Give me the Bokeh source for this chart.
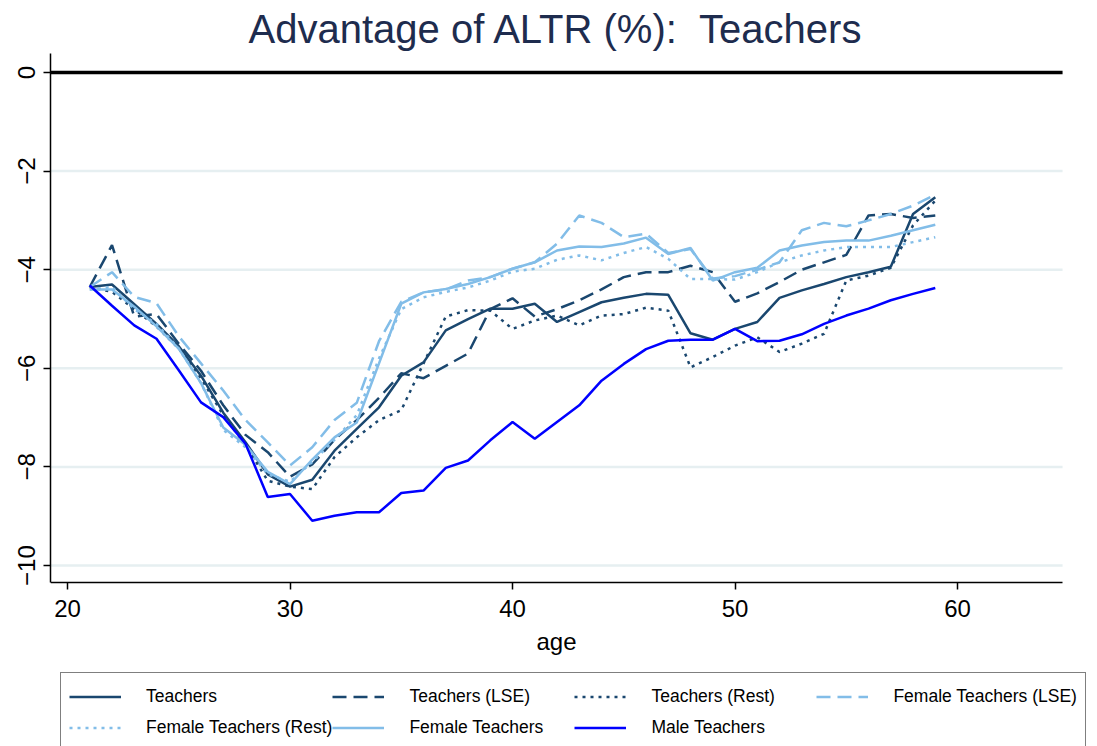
from bokeh.plotting import figure
from bokeh.models import Legend, LegendItem, FixedTicker
from bokeh.embed import file_html
from bokeh.resources import INLINE

ages = list(range(21, 60))

teachers = [-4.35, -4.30, -4.70, -5.10, -5.55, -6.15, -6.90, -7.50, -8.15, -8.40,
            -8.26, -7.67, -7.23, -6.79, -6.15, -5.88, -5.23, -5.00, -4.79, -4.79,
            -4.69, -5.06, -4.86, -4.66, -4.57, -4.49, -4.51, -5.29, -5.42, -5.20,
            -5.06, -4.57, -4.42, -4.29, -4.15, -4.05, -3.94, -2.87, -2.53]

teachers_lse = [-4.35, -3.50, -4.95, -4.90, -5.50, -6.05, -6.75, -7.35, -7.70, -8.20,
                -7.95, -7.45, -7.05, -6.60, -6.10, -6.20, -5.95, -5.70, -4.80, -4.58,
                -4.95, -4.80, -4.62, -4.40, -4.15, -4.05, -4.05, -3.92, -4.05, -4.65,
                -4.48, -4.25, -4.00, -3.85, -3.70, -2.90, -2.87, -2.95, -2.90]

teachers_rest = [-4.35, -4.45, -4.80, -5.15, -5.60, -6.20, -6.95, -7.55, -8.28, -8.40,
                 -8.45, -7.80, -7.40, -7.05, -6.85, -5.90, -4.95, -4.82, -4.83, -5.20,
                 -5.03, -4.93, -5.13, -4.93, -4.90, -4.77, -4.83, -5.98, -5.77, -5.54,
                 -5.37, -5.67, -5.50, -5.30, -4.22, -4.12, -3.96, -3.10, -2.60]

female_lse = [-4.35, -4.05, -4.55, -4.68, -5.35, -5.90, -6.45, -7.05, -7.50, -7.97,
              -7.60, -7.05, -6.70, -5.45, -4.65, -4.46, -4.40, -4.22, -4.15, -3.98,
              -3.85, -3.47, -2.90, -3.05, -3.34, -3.27, -3.66, -3.58, -4.18, -4.13,
              -4.00, -3.85, -3.20, -3.05, -3.12, -3.00, -2.87, -2.70, -2.48]

female_rest = [-4.40, -4.35, -4.80, -5.10, -5.60, -6.30, -7.25, -7.60, -8.15, -8.30,
               -7.90, -7.45, -6.95, -5.80, -4.80, -4.56, -4.45, -4.36, -4.22, -4.04,
               -3.98, -3.80, -3.71, -3.81, -3.66, -3.54, -3.78, -4.19, -4.19, -4.20,
               -4.05, -3.85, -3.71, -3.61, -3.54, -3.54, -3.54, -3.44, -3.34]

female = [-4.40, -4.40, -4.75, -5.15, -5.60, -6.30, -7.20, -7.55, -8.10, -8.35,
          -7.85, -7.40, -7.10, -5.90, -4.69, -4.46, -4.39, -4.29, -4.15, -3.98,
          -3.85, -3.61, -3.53, -3.54, -3.47, -3.35, -3.68, -3.56, -4.22, -4.05,
          -3.96, -3.61, -3.51, -3.44, -3.41, -3.41, -3.31, -3.20, -3.09]

male = [-4.32, -4.73, -5.13, -5.40, -6.04, -6.69, -6.99, -7.53, -8.61, -8.55,
        -9.09, -8.99, -8.92, -8.92, -8.53, -8.48, -8.02, -7.87, -7.46, -7.09,
        -7.43, -7.09, -6.75, -6.25, -5.91, -5.61, -5.44, -5.42, -5.42, -5.20,
        -5.45, -5.44, -5.31, -5.10, -4.93, -4.79, -4.62, -4.49, -4.37]

x_ticks = [20, 30, 40, 50, 60]
y_ticks = [-10, -8, -6, -4, -2, 0]
grid_ticks = [-10, -8, -6, -4, -2]

# axis extents (data units)
X_LO, X_HI = 19.236, 64.72
Y_LO, Y_HI = -10.345, 0.385
# whole canvas region (room for the legend beneath the axis)
X_CANVAS_HI, Y_CANVAS_LO = 66.29, -13.67

DARK = "#1a476f"
LIGHT = "#82bde8"
BLUE = "#0000ff"
FONT = "Liberation Sans"

p = figure(frame_width=1047, frame_height=693,
           x_range=(X_LO, X_CANVAS_HI), y_range=(Y_CANVAS_LO, Y_HI),
           output_backend="svg", toolbar_location=None,
           min_border_left=50, min_border_right=0, min_border_top=53, min_border_bottom=0,
           title="Advantage of ALTR (%):\u00a0\u00a0Teachers")

p.title.text_font = FONT
p.title.text_font_size = "40px"
p.title.text_font_style = "normal"
p.title.text_color = "#1e2c4e"
p.title.align = "left"
p.title.offset = 198
p.title.standoff = 6

p.outline_line_color = None
p.background_fill_color = "white"
p.border_fill_color = "white"
p.xgrid.visible = False
p.ygrid.visible = False

for ax in (p.xaxis[0], p.yaxis[0]):
    ax.axis_line_color = "black"
    ax.axis_line_width = 1.5
    ax.major_tick_line_color = "black"
    ax.major_tick_line_width = 1.5
    ax.major_tick_out = 7
    ax.major_tick_in = 0
    ax.minor_tick_line_color = None
    ax.major_label_text_font = FONT
    ax.major_label_text_font_size = "24px"
    ax.major_label_text_color = "black"

p.xaxis.ticker = FixedTicker(ticks=x_ticks)
p.yaxis.ticker = FixedTicker(ticks=y_ticks)
p.xaxis.fixed_location = Y_LO
p.xaxis.bounds = (X_LO, X_HI)
p.yaxis.bounds = (Y_LO, Y_HI)
p.yaxis.major_label_orientation = "vertical"
p.yaxis.major_label_standoff = 8
p.xaxis.major_label_standoff = 10
p.xaxis.axis_label = "age"
p.xaxis.axis_label_text_font = FONT
p.xaxis.axis_label_text_font_size = "24px"
p.xaxis.axis_label_text_font_style = "normal"
p.xaxis.axis_label_text_color = "black"
p.xaxis.axis_label_standoff = 8

# horizontal grid lines and the zero reference line, spanning the axis extent
p.segment(x0=[X_LO] * len(grid_ticks), x1=[X_HI] * len(grid_ticks),
          y0=grid_ticks, y1=grid_ticks, line_color="#e6eff1", line_width=2.5)
p.segment(x0=[X_LO], x1=[X_HI], y0=[0], y1=[0], line_color="black", line_width=3.5)

W = 2.5
r1 = p.line(ages, teachers, line_color=DARK, line_width=W)
r2 = p.line(ages, teachers_lse, line_color=DARK, line_width=W, line_dash="14 7")
r3 = p.line(ages, teachers_rest, line_color=DARK, line_width=W, line_dash="3 5")
r4 = p.line(ages, female_lse, line_color=LIGHT, line_width=W, line_dash="14 7")
r5 = p.line(ages, female_rest, line_color=LIGHT, line_width=W, line_dash="3 5")
r6 = p.line(ages, female, line_color=LIGHT, line_width=W)
r7 = p.line(ages, male, line_color=BLUE, line_width=W)

legend = Legend(items=[
    LegendItem(label="Teachers", renderers=[r1]),
    LegendItem(label="Teachers (LSE)", renderers=[r2]),
    LegendItem(label="Teachers (Rest)", renderers=[r3]),
    LegendItem(label="Female Teachers (LSE)", renderers=[r4]),
    LegendItem(label="Female Teachers (Rest)", renderers=[r5]),
    LegendItem(label="Female Teachers", renderers=[r6]),
    LegendItem(label="Male Teachers", renderers=[r7]),
], orientation="horizontal", ncols=4, location=(10, -6))
legend.label_text_font = FONT
legend.label_text_font_size = "17.5px"
legend.label_text_color = "black"
legend.glyph_width = 52
legend.glyph_height = 31
legend.label_standoff = 25
legend.label_width = 165
legend.spacing = 0
legend.padding = 8
legend.margin = 0
legend.border_line_color = "black"
legend.border_line_width = 1.5
legend.background_fill_color = "white"
p.add_layout(legend, "center")

open("out.html", "w").write(file_html(p, INLINE))
